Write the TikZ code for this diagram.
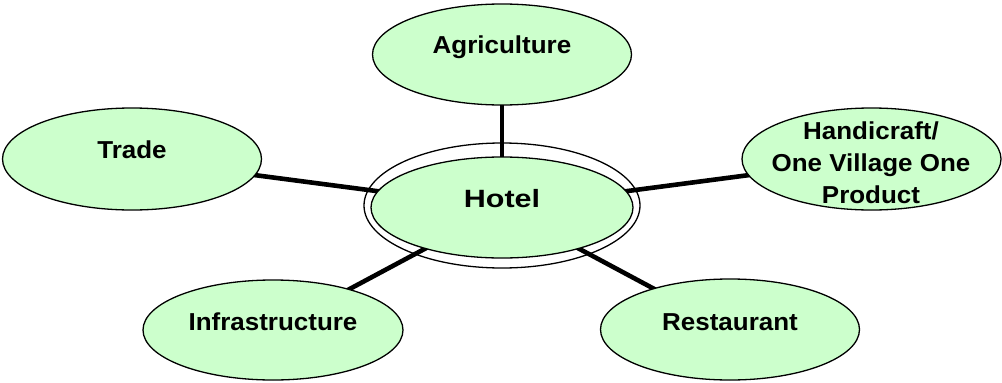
\documentclass[tikz,border=0pt]{standalone}
\usepackage{fontspec}
\setmainfont{Liberation Sans}[FakeStretch=1.06]
\newfontfamily\hotelfont{Liberation Sans}[FakeStretch=1.22]
\usetikzlibrary{shapes.geometric}
\pgfdeclarelayer{back}
\pgfdeclarelayer{bg}
\pgfsetlayers{back,bg,main}
\definecolor{bubblefill}{HTML}{CCFFCC}
\tikzset{
  bubble/.style={ellipse, draw=black, fill=bubblefill, line width=1.3pt, inner sep=0pt,
    minimum width=259pt, minimum height=102pt},
  ring/.style={ellipse, draw=black, fill=white, line width=1.3pt, inner sep=0pt},
  lbl/.style={anchor=base, inner sep=0pt, font=\fontsize{24.5}{32}\selectfont\bfseries},
  link/.style={line width=4.6pt, black}
}
\begin{document}
\begin{tikzpicture}[x=1pt,y=-1pt]
\useasboundingbox (0,0) rectangle (1002,383);
% outer ring of Hotel
\begin{pgfonlayer}{back}
\node[ring, minimum width=276pt, minimum height=125pt] (hotelring) at (502,205.5) {};
\end{pgfonlayer}
% bubbles
\node[bubble, minimum width=262pt, minimum height=101pt] (hotel) at (502,207.5) {};
\node[bubble, minimum height=101pt] (agri) at (502,54.5) {};
\node[bubble] (trade) at (132,159) {};
\node[bubble] (handi) at (871.5,159) {};
\node[bubble, minimum width=260pt, minimum height=100pt] (infra) at (273,330) {};
\node[bubble, minimum height=101pt] (rest) at (730,329.5) {};
% labels
\node[lbl, font=\fontsize{25}{30}\hotelfont\bfseries] (hotel-t) at (502,207) {Hotel};
\node[lbl] (agri-t) at (502,53) {Agriculture};
\node[lbl] (trade-t) at (132,158) {Trade};
\node[lbl] (handi-t1) at (871,139) {Handicraft/};
\node[lbl] (handi-t2) at (871,171) {One Village One};
\node[lbl] (handi-t3) at (871,203) {Product};
\node[lbl] (infra-t) at (273,330) {Infrastructure};
\node[lbl] (rest-t) at (730,330) {Restaurant};
% connectors
\begin{pgfonlayer}{bg}
\draw[link] (agri.center) -- (hotel.center);
\draw[link] (trade.center) -- (hotel.center);
\draw[link] (handi.center) -- (hotel.center);
\draw[link] (infra.center) -- (hotel.center);
\draw[link] (rest.center) -- (hotel.center);
\end{pgfonlayer}
\end{tikzpicture}
\end{document}
